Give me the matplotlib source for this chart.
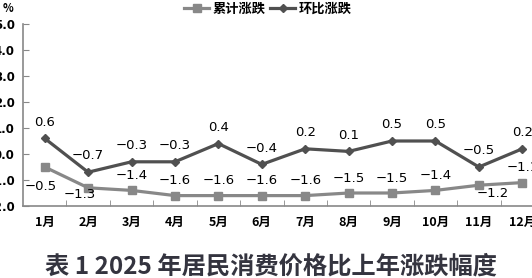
import matplotlib.pyplot as plt
import matplotlib as mpl

months = ['1月', '2月', '3月', '4月', '5月', '6月', '7月', '8月', '9月', '10月', '11月', '12月']
leiji = [-0.5, -1.3, -1.4, -1.6, -1.6, -1.6, -1.6, -1.5, -1.5, -1.4, -1.2, -1.1]
huanbi = [0.6, -0.7, -0.3, -0.3, 0.4, -0.4, 0.2, 0.1, 0.5, 0.5, -0.5, 0.2]
yticks = [-2.0, -1.0, 0.0, 1.0, 2.0, 3.0, 4.0, 5.0]

mpl.rcParams['font.family'] = ['Noto Sans CJK SC', 'DejaVu Sans']
mpl.rcParams['axes.unicode_minus'] = True

dpi = 100
fig = plt.figure(dpi=dpi, figsize=(532 / dpi, 278 / dpi))
ax = fig.add_axes([23 / 532, 72 / 278, 521 / 532, 182 / 278])

x = list(range(len(months)))
c1 = '#888888'
c2 = '#505050'
ax.plot(x, leiji, color=c1, lw=2.3, marker='s', ms=5.5, label='累计涨跌')
ax.plot(x, huanbi, color=c2, lw=2.3, marker='D', ms=4, label='环比涨跌')

ax.set_xlim(-0.5, 11.5)
ax.set_ylim(-2.0, 5.0)
ax.set_yticks(yticks)
ax.set_yticklabels(['%.1f' % v for v in yticks], fontsize=8.5, fontweight='bold', family='DejaVu Sans')
ax.set_xticks(x)
ax.set_xticklabels(months, fontsize=9, fontweight='bold')
ax.set_xticks([i + 0.5 for i in x[:-1]], minor=True)
ax.tick_params(axis='x', which='major', length=0, pad=7)
ax.tick_params(axis='x', which='minor', direction='in', length=4, color='#888888')
ax.tick_params(axis='y', direction='in', length=4, color='#888888', pad=6)
for s in ['top', 'right']:
    ax.spines[s].set_visible(False)
for s in ['left', 'bottom']:
    ax.spines[s].set_color('#888888')
    ax.spines[s].set_linewidth(1.2)

def fmt(v):
    return ('%.1f' % v).replace('-', '\u2212')

# labels for cumulative series
for i, v in enumerate(leiji):
    off = (0, 6)
    va = 'bottom'
    if i == 0:
        off, va = (-3, -9), 'top'
    elif i == 1:
        off, va = (-6, 0), 'top'
    elif i == 10:
        off, va = (10, -1), 'top'
    ax.annotate(fmt(v), (i, v), xytext=off, textcoords='offset points',
                ha='center', va=va, fontsize=9.5, family='DejaVu Sans')

# labels for month-on-month series
for i, v in enumerate(huanbi):
    ax.annotate(fmt(v), (i, v), xytext=(0, 7), textcoords='offset points',
                ha='center', va='bottom', fontsize=9.5, family='DejaVu Sans')

ax.text(-0.018, 1.05, '%', transform=ax.transAxes, ha='right', va='bottom',
        fontsize=8, fontweight='bold')

fig.legend(loc='center', bbox_to_anchor=(268 / 532, 1 - 9 / 278), ncol=2, frameon=False,
           prop={'size': 9.5, 'weight': 'bold'}, handlelength=1.9, columnspacing=0.3,
           handletextpad=0.3, borderpad=0)

fig.text(271 / 532, 1 - 267 / 278, '表 1 2025 年居民消费价格比上年涨跌幅度', ha='center', va='center',
         fontsize=17.5, fontweight='bold', color='#34343f')

fig.savefig('out.png', dpi=dpi)
